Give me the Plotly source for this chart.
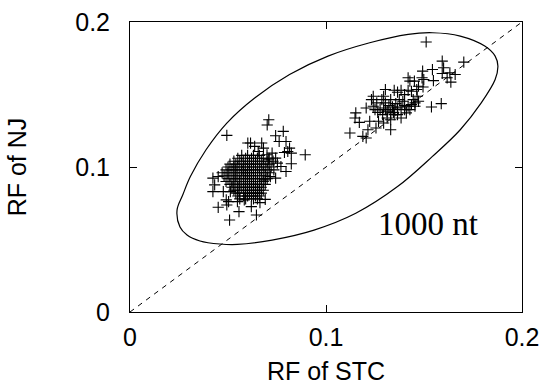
import plotly.graph_objects as go

# ---- data: right cluster (STC RF, NJ RF) ----
right_x = [0.1511, 0.1703, 0.1593, 0.1543, 0.1600, 0.1593, 0.1632, 0.1659, 0.1618, 0.1637,
           0.1493, 0.1490, 0.1419, 0.1428, 0.1451, 0.1499, 0.1548, 0.1472, 0.1495, 0.1463,
           0.1419, 0.1436, 0.1383, 0.1401, 0.1365, 0.1348, 0.1303, 0.1330, 0.1294, 0.1241,
           0.1232, 0.1259, 0.1205, 0.1241, 0.1250, 0.1276, 0.1294, 0.1312, 0.1330, 0.1348,
           0.1365, 0.1383, 0.1401, 0.1419, 0.1436, 0.1454, 0.1472, 0.1465, 0.1445, 0.1285,
           0.1303, 0.1321, 0.1339, 0.1356, 0.1374, 0.1392, 0.1264, 0.1289, 0.1348, 0.1365,
           0.1383, 0.1330, 0.1312, 0.1538, 0.1588, 0.1152, 0.1148, 0.1170, 0.1223, 0.1268,
           0.1255, 0.1214, 0.1188, 0.1205, 0.1122, 0.1330, 0.1294, 0.1303, 0.1344, 0.1401,
           0.1410, 0.1428, 0.1454]
right_y = [0.1862, 0.1723, 0.1730, 0.1672, 0.1684, 0.1645, 0.1649, 0.1638, 0.1615, 0.1585,
           0.1661, 0.1615, 0.1615, 0.1592, 0.1592, 0.1603, 0.1596, 0.1557, 0.1552, 0.1534,
           0.1529, 0.1522, 0.1529, 0.1499, 0.1516, 0.1529, 0.1534, 0.1465, 0.1488, 0.1488,
           0.1465, 0.1442, 0.1407, 0.1419, 0.1396, 0.1396, 0.1407, 0.1384, 0.1373, 0.1396,
           0.1407, 0.1414, 0.1423, 0.1419, 0.1430, 0.1442, 0.1453, 0.1488, 0.1465, 0.1465,
           0.1442, 0.1423, 0.1414, 0.1437, 0.1465, 0.1453, 0.1377, 0.1361, 0.1361, 0.1361,
           0.1338, 0.1326, 0.1338, 0.1414, 0.1437, 0.1373, 0.1338, 0.1308, 0.1315, 0.1315,
           0.1269, 0.1257, 0.1211, 0.1200, 0.1234, 0.1257, 0.1303, 0.1396, 0.1377, 0.1396,
           0.1373, 0.1396, 0.1419]

# ---- data: left cluster, sparse points ----
left_sparse_x = [0.0494, 0.0708, 0.0700, 0.0743, 0.0782, 0.0796, 0.0761, 0.0805, 0.0823, 0.0814,
                 0.0788, 0.0894, 0.0823, 0.0796, 0.0770, 0.0601, 0.0615, 0.0636, 0.0672, 0.0681,
                 0.0654, 0.0699, 0.0725, 0.0743, 0.0708, 0.0752, 0.0734, 0.0716, 0.0743, 0.0690,
                 0.0423, 0.0450, 0.0432, 0.0423, 0.0476, 0.0512, 0.0450, 0.0494, 0.0503, 0.0491,
                 0.0556, 0.0619, 0.0645, 0.0508, 0.0548, 0.0583, 0.0690, 0.0663]
left_sparse_y = [0.1218, 0.1326, 0.1290, 0.1216, 0.1246, 0.1176, 0.1176, 0.1107, 0.1096, 0.1130,
                 0.1100, 0.1084, 0.1022, 0.0969, 0.1003, 0.1165, 0.1165, 0.1142, 0.1165, 0.1130,
                 0.1107, 0.1084, 0.1096, 0.1061, 0.1050, 0.1027, 0.0980, 0.0934, 0.0923, 0.0911,
                 0.0923, 0.0934, 0.0877, 0.0830, 0.0830, 0.0830, 0.0722, 0.0738, 0.0761, 0.0773,
                 0.0692, 0.0727, 0.0669, 0.0634, 0.0761, 0.0773, 0.0777, 0.0754]

# ---- data: left cluster, dense core (one list of x per NJ value) ----
core_rows = {
    0.108: [0.057, 0.060, 0.063, 0.066],
    0.106: [0.055, 0.059, 0.062, 0.065, 0.068, 0.071],
    0.104: [0.053, 0.056, 0.058, 0.061, 0.064, 0.067, 0.070, 0.073],
    0.102: [0.051, 0.054, 0.057, 0.060, 0.062, 0.065, 0.068, 0.071],
    0.100: [0.050, 0.053, 0.055, 0.058, 0.060, 0.063, 0.066, 0.069, 0.072],
    0.098: [0.049, 0.052, 0.054, 0.057, 0.059, 0.061, 0.064, 0.067, 0.070],
    0.096: [0.047, 0.050, 0.053, 0.056, 0.058, 0.060, 0.062, 0.065, 0.068, 0.071],
    0.094: [0.048, 0.051, 0.054, 0.057, 0.059, 0.061, 0.063, 0.066, 0.069],
    0.092: [0.050, 0.053, 0.055, 0.058, 0.060, 0.062, 0.064, 0.067, 0.070],
    0.090: [0.049, 0.052, 0.054, 0.056, 0.059, 0.061, 0.063, 0.065, 0.068],
    0.088: [0.051, 0.053, 0.056, 0.058, 0.060, 0.062, 0.064, 0.066, 0.069],
    0.086: [0.052, 0.055, 0.057, 0.059, 0.061, 0.063, 0.065, 0.067],
    0.084: [0.053, 0.055, 0.058, 0.060, 0.062, 0.064, 0.066, 0.068],
    0.082: [0.054, 0.056, 0.059, 0.061, 0.063, 0.065, 0.067],
    0.080: [0.055, 0.058, 0.060, 0.062, 0.064, 0.066],
    0.078: [0.056, 0.059, 0.063, 0.065],
}

# diagonal reference line y = x
diag = [0.0, 0.2]

# hand-drawn enclosing curve, outline (data units)
outline_x = [0.0240, 0.0255, 0.0291, 0.0357, 0.0459, 0.0548, 0.0725, 0.0939, 0.1152, 0.1365,
             0.1543, 0.1685, 0.1792, 0.1863, 0.1877, 0.1863, 0.1810, 0.1685, 0.1543, 0.1419,
             0.1223, 0.1010, 0.0814, 0.0636, 0.0494, 0.0388, 0.0308, 0.0270, 0.0240]
outline_y = [0.0703, 0.0586, 0.0531, 0.0490, 0.0469, 0.0466, 0.0496, 0.0565, 0.0681, 0.0865,
             0.1073, 0.1257, 0.1442, 0.1603, 0.1696, 0.1765, 0.1834, 0.1903, 0.1926, 0.1915,
             0.1857, 0.1765, 0.1638, 0.1476, 0.1303, 0.1119, 0.0934, 0.0810, 0.0703]

label_text = "1000 nt"
label_pos = (0.152, 0.0607)

# ---- build ----
core_x = [x for y, xs in core_rows.items() for x in xs]
core_y = [y for y, xs in core_rows.items() for x in xs]
all_x = right_x + left_sparse_x + core_x
all_y = right_y + left_sparse_y + core_y

fig = go.Figure()
fig.add_trace(go.Scatter(x=diag, y=diag, mode="lines",
                         line=dict(color="black", width=1, dash="5px,5px"),
                         hoverinfo="skip"))
fig.add_trace(go.Scatter(x=outline_x, y=outline_y, mode="lines",
                         line=dict(color="black", width=1.2, shape="spline", smoothing=1.0),
                         hoverinfo="skip"))
fig.add_trace(go.Scatter(x=all_x, y=all_y, mode="markers",
                         marker=dict(symbol="cross-thin", size=8,
                                     line=dict(color="black", width=1.1))))

fig.add_annotation(x=label_pos[0], y=label_pos[1], text=label_text, showarrow=False,
                   font=dict(family="Liberation Serif", size=33, color="black"))

axis_common = dict(range=[0, 0.2], dtick=0.1, ticks="inside", ticklen=7, tickwidth=1,
                   tickcolor="black", showline=True, linecolor="black", linewidth=1,
                   mirror="ticks", showgrid=False, zeroline=False, automargin=False,
                   tickfont=dict(family="Liberation Sans", size=25, color="black"))

fig.update_xaxes(**axis_common, ticklabelstandoff=3,
                 title=dict(text="RF of STC", standoff=12,
                            font=dict(family="Liberation Sans", size=25, color="black")))
fig.update_yaxes(**axis_common, ticklabelstandoff=14,
                 title=dict(text="RF of NJ", standoff=41,
                            font=dict(family="Liberation Sans", size=25, color="black")))

fig.update_layout(width=546, height=389, showlegend=False,
                  margin=dict(l=130, r=24, t=22, b=77),
                  plot_bgcolor="white", paper_bgcolor="white")

fig.write_html("out.html", config={"displayModeBar": False},
               post_script="document.body.style.margin='0';"
                           "document.documentElement.style.overflow='hidden';")
